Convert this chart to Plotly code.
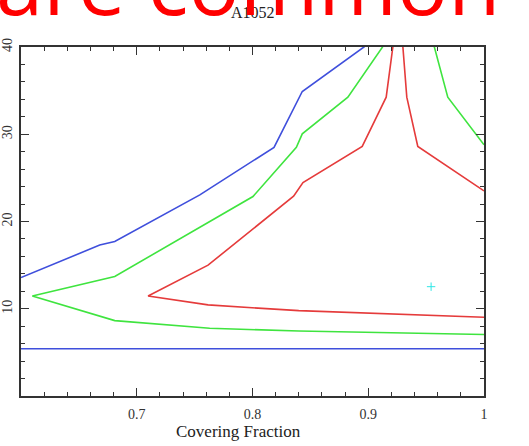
import plotly.graph_objects as go

# ---- data ----
blue_upper_x = [0.6, 0.668, 0.681, 0.7545, 0.8186, 0.843, 0.8968]
blue_upper_y = [13.57, 17.3, 17.7, 23.05, 28.5, 34.9, 40.05]

blue_lower_x = [0.6, 0.68, 1.0]
blue_lower_y = [5.42, 5.42, 5.42]

green_main_x = [0.9126, 0.8824, 0.843, 0.8379, 0.8004, 0.681, 0.6098, 0.681, 0.763, 0.84, 1.0]
green_main_y = [40.05, 34.25, 30.05, 28.5, 22.86, 13.7, 11.47, 8.64, 7.76, 7.45, 7.05]

green_right_x = [0.957, 0.9687, 1.0]
green_right_y = [40.05, 34.25, 28.8]

red_main_x = [0.9213, 0.9155, 0.8948, 0.8436, 0.8355, 0.7616, 0.7098, 0.7616, 0.84, 1.0]
red_main_y = [40.05, 34.25, 28.6, 24.46, 22.9, 15.0, 11.47, 10.44, 9.78, 9.02]

red_right_x = [0.9299, 0.9333, 0.9428, 1.0]
red_right_y = [40.05, 34.25, 28.6, 23.5]

best_x = [0.9543]
best_y = [12.53]

x_tickvals = [0.7, 0.8, 0.9, 1.0]
x_ticktext = ["0.7", "0.8", "0.9", "1"]
y_tickvals = [10, 20, 30, 40]
y_ticktext = ["10", "20", "30", "40"]

title_text = "A1052"
xlabel_text = "Covering Fraction"
overlay_text = "are common"

BLUE = "#3f4fdc"
GREEN = "#3fe43f"
RED = "#e53b3b"
CYAN = "#2ee6e6"
AXIS = "#333333"
SERIF = "Liberation Serif, Times New Roman, serif"

fig = go.Figure()

def add_line(x, y, color):
    fig.add_trace(go.Scatter(x=x, y=y, mode="lines",
                             line=dict(color=color, width=1.6),
                             showlegend=False, hoverinfo="skip"))

add_line(blue_lower_x, blue_lower_y, BLUE)
add_line(blue_upper_x, blue_upper_y, BLUE)
add_line(green_main_x, green_main_y, GREEN)
add_line(green_right_x, green_right_y, GREEN)
add_line(red_main_x, red_main_y, RED)
add_line(red_right_x, red_right_y, RED)

fig.add_trace(go.Scatter(x=best_x, y=best_y, mode="markers",
                         marker=dict(symbol="cross-thin", size=6,
                                     line=dict(color=CYAN, width=1)),
                         showlegend=False, hoverinfo="skip"))

axis_common = dict(
    showgrid=False, zeroline=False, automargin=False,
    showline=True, linecolor=AXIS, linewidth=1.5,
    mirror="allticks", ticks="inside", ticklen=8, tickwidth=1.2,
    tickcolor=AXIS,
    tickfont=dict(family=SERIF, size=14, color=AXIS),
)

fig.update_xaxes(range=[0.6, 1.0], tickvals=x_tickvals, ticktext=x_ticktext,
                 ticklabelstandoff=4,
                 minor=dict(dtick=0.02, ticks="inside", ticklen=4,
                            tickcolor=AXIS, tickwidth=1.2),
                 **axis_common)
fig.update_yaxes(range=[0, 40], tickvals=y_tickvals, ticktext=y_ticktext,
                 tickangle=-90, ticklabelstandoff=2,
                 minor=dict(dtick=2, ticks="inside", ticklen=4,
                            tickcolor=AXIS, tickwidth=1.2),
                 **axis_common)

W, H = 529, 446
L, R, T, B = 21, 45, 47, 50
pw, ph = W - L - R, H - T - B

def px_x(p):
    return (p - L) / pw

def px_y(p):
    return (H - B - p) / ph

fig.update_layout(
    width=W, height=H,
    margin=dict(l=L, r=R, t=T, b=B, pad=0, autoexpand=False),
    paper_bgcolor="white", plot_bgcolor="white",
    annotations=[
        dict(text=title_text, xref="paper", yref="paper",
             x=px_x(253), y=px_y(23), xanchor="center", yanchor="bottom",
             showarrow=False, font=dict(family=SERIF, size=16, color="#222222")),
        dict(text=xlabel_text, xref="paper", yref="paper",
             x=px_x(238), y=px_y(443), xanchor="center", yanchor="bottom",
             showarrow=False, font=dict(family=SERIF, size=17, color="#222222")),
        dict(text=overlay_text, xref="paper", yref="paper",
             x=px_x(-6), y=px_y(42), xanchor="left", yanchor="bottom",
             showarrow=False, font=dict(family="Open Sans, sans-serif", size=85, color="#ff0000")),
    ],
)

fig.write_html("out.html")
